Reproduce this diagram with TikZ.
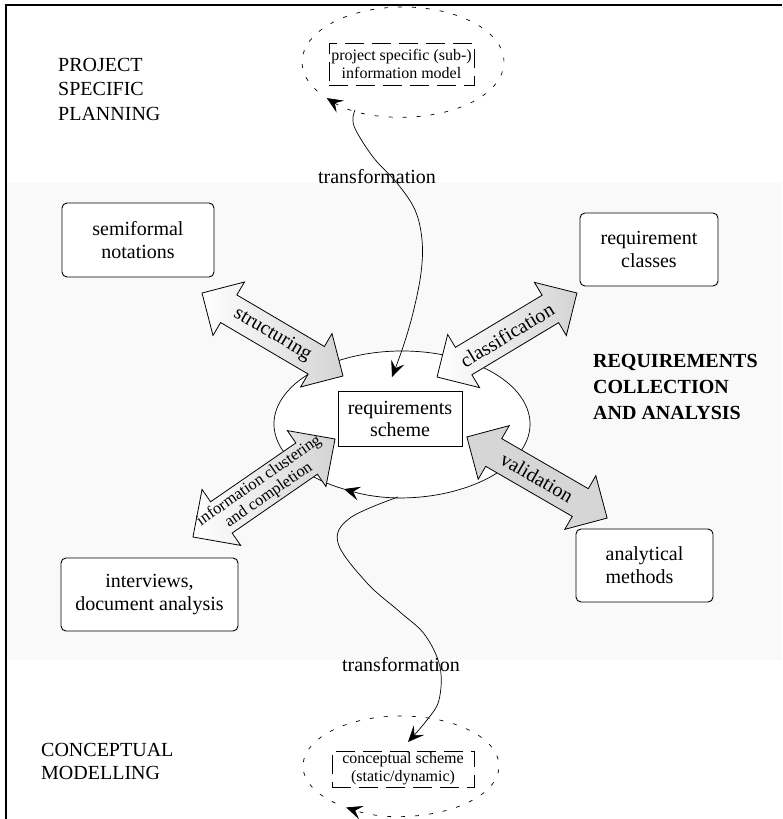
\documentclass[tikz,border=0pt]{standalone}
\usepackage{fontspec}
\setmainfont{Liberation Serif}
\usetikzlibrary{arrows.meta}
\newcommand{\fatarr}[8]{%
  \begin{scope}[shift={(#1,#2)},rotate=#3]
    \path[#8] (-#4,0) -- (-#4+#5,#6) -- (-#4+#5,#7) -- (#4-#5,#7) -- (#4-#5,#6)
      -- (#4,0) -- (#4-#5,-#6) -- (#4-#5,-#7) -- (-#4+#5,-#7) -- (-#4+#5,-#6) -- cycle;
  \end{scope}}
\begin{document}
\begin{tikzpicture}[x=1pt,y=-1pt,
  box/.style={draw, line width=0.9pt, rounded corners=5pt, fill=white, align=center, inner sep=0pt, font=\fontsize{20}{23}\selectfont},
  lbl/.style={align=left, inner sep=0pt, font=\fontsize{20}{24.5}\selectfont},
  fat/.style={draw, line width=0.8pt, left color=white, right color=black!17},
  fatgrey/.style={draw, line width=0.8pt, fill=black!16},
  fatlbl/.style={inner sep=0pt, align=center, font=\fontsize{20}{20}\selectfont},
  dashell/.style={line width=0.7pt, dash pattern=on 4pt off 10pt},
  dashbox/.style={draw, line width=0.7pt, dash pattern=on 19pt off 8pt, align=center, inner sep=0pt, font=\fontsize{16}{18}\selectfont},
  thinline/.style={line width=0.7pt},
  tip/.style={-{Stealth[length=16pt,width=14pt,inset=6.5pt]}},
]
\useasboundingbox (0,0) rectangle (782,819);
% background band and frame
\fill[black!2.5] (6,183) rectangle (782,660);
\draw[line width=2.5pt] (6,819) -- (6,5) -- (782,5);

% side labels
\node[lbl, anchor=west] (psp) at (58,89) {PROJECT\\SPECIFIC\\PLANNING};
\node[lbl, anchor=west, font=\bfseries\fontsize{20}{26}\selectfont] (rca) at (593,387) {REQUIREMENTS\\COLLECTION\\AND ANALYSIS};
\node[lbl, anchor=west, font=\fontsize{20}{23}\selectfont] (cm) at (41,761.5) {CONCEPTUAL\\MODELLING};

% top ellipse
\draw[dashell, tip] (403,62) ++(-212:101 and 55) arc[start angle=-212, end angle=139, x radius=101, y radius=55];
\node[dashbox, minimum width=145, minimum height=42] (pim) at (401.5,64) {project specific (sub-)\\information model};
\coordinate (tstart) at (355,110);

% bottom ellipse
\draw[dashell, tip] (401,766) ++(-228:98 and 50) arc[start angle=-228, end angle=124, x radius=98, y radius=50];
\node[dashbox, minimum width=142, minimum height=36] (csc) at (403,769) {conceptual scheme\\(static/dynamic)};
\coordinate (bend) at (408,742);

% requirements ellipse
\fill[white] (402,424) ellipse [x radius=128, y radius=73];
\draw[thinline, tip] (402,424) ++(-243:128 and 73) arc[start angle=-243, end angle=117, x radius=128, y radius=73];
\node[draw, line width=0.8pt, fill=white, align=center, inner sep=0pt, minimum width=124, minimum height=55, font=\fontsize{20}{22}\selectfont] (rs) at (400,418.5) {requirements\\scheme};
\coordinate (tend) at (392,377);
\coordinate (bstart) at (398,497);

% boxes
\node[box, minimum width=152, minimum height=74] (semi) at (138,240) {semiformal\\notations};
\node[box, minimum width=138, minimum height=73] (rc) at (649,249.5) {requirement\\classes};
\node[box, minimum width=177, minimum height=73] (intv) at (149.5,594.5) {interviews,\\document analysis};
\node[box, minimum width=137, minimum height=73, align=left] (am) at (644.5,565.5) {analytical\\methods};

% fat double arrows
\fatarr{272.5}{334.5}{-30.48}{81.8}{31}{31}{16}{fat}
\node[fatlbl, rotate=-30.48] (lstruct) at (272.5,334.5) {structuring};
\fatarr{507}{335}{31}{81.6}{31}{31}{16}{fat}
\node[fatlbl, rotate=31] (lclass) at (507,335) {classification};
\fatarr{537}{477.5}{-30.05}{81}{31}{31}{16}{fatgrey}
\node[fatlbl, rotate=-30.05] (lvalid) at (537,477.5) {validation};
\fatarr{264}{488}{34.6}{86.3}{34.5}{34}{19}{fat}
\node[fatlbl, rotate=34.6, font=\fontsize{16.5}{17}\selectfont] (linfo) at (264,488) {information clustering\\and completion};

% transformation curves
\draw[thinline, tip] plot[smooth, tension=0.6] coordinates {(tstart) (354,126) (373,157) (397,183) (415,210) (422,240) (421,273) (413,313) (403,347) (tend)};
\draw[thinline, tip] plot[smooth, tension=0.6] coordinates {(bstart) (350,518) (338,543) (367,583) (400,612) (425,635) (440,667) (439,700) (427,720) (bend)};
\node[inner sep=0pt, anchor=base, font=\fontsize{20}{20}\selectfont] (tr1) at (377,183) {transformation};
\node[inner sep=0pt, anchor=base, font=\fontsize{20}{20}\selectfont] (tr2) at (401,671) {transformation};
\end{tikzpicture}
\end{document}
